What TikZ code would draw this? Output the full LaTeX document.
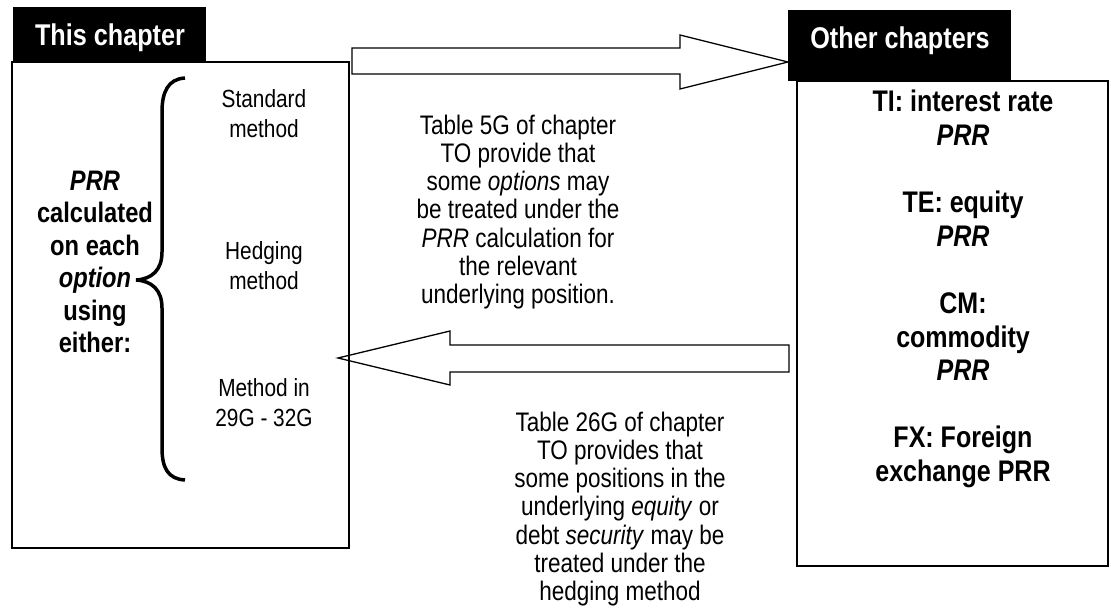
\documentclass[tikz,border=0pt]{standalone}
\usepackage{fontspec}
\setmainfont{Liberation Sans}[FakeStretch=0.84]
\begin{document}
\begin{tikzpicture}[x=1pt,y=-1pt,
  frame/.style={draw,line width=1.5pt},
  tab/.style={fill=black,inner sep=0pt},
  tabtext/.style={text=white,inner sep=0pt,font=\fontsize{30}{34}\selectfont\bfseries},
  note/.style={align=center,inner sep=0pt,font=\fontsize{26.8}{28.3}\selectfont},
  method/.style={align=center,inner sep=0pt,font=\fontsize{24.8}{30}\selectfont},
  strong/.style={align=center,inner sep=0pt,font=\fontsize{28.2}{32.5}\selectfont\bfseries},
  strongr/.style={align=center,inner sep=0pt,font=\fontsize{29.8}{33.6}\selectfont\bfseries},
  blockarrow/.style={draw,line width=1.3pt,line join=miter},
  bracket/.style={draw,line width=3.5pt}]
\useasboundingbox (0,0) rectangle (1111,615);

% chapter boxes
\draw[frame] (12,62) rectangle (349,548);
\draw[frame] (797,81) rectangle (1108,566);

% block arrows between the two boxes
\coordinate (rtip) at (788,62);
\draw[blockarrow] (352,48) -- (680,48) -- (680,35) -- (rtip) -- (680,89) -- (680,74) -- (352,74) -- cycle;
\coordinate (ltip) at (338,358);
\draw[blockarrow] (789,345) -- (450,345) -- (450,331) -- (ltip) -- (450,385) -- (450,372) -- (789,372) -- cycle;

% chapter tabs
\node[tab,minimum width=193pt,minimum height=55pt] (thistab) at (109.5,34.5) {};
\node[tabtext] (thistext) at (110,38) {This chapter};
\node[tab,minimum width=223pt,minimum height=71pt] (othertab) at (899.5,45.5) {};
\node[tabtext] (othertext) at (900,41) {Other chapters};

% curly bracket
\draw[bracket] (185,78) .. controls (168,79) and (162,92) .. (162,112)
  -- (162,252) .. controls (162,270) and (152,279) .. (136,280)
  .. controls (152,281) and (162,290) .. (162,308)
  -- (162,448) .. controls (162,468) and (168,479) .. (185,480);

% left box texts
\node[strong] (calc) at (95,262) {\textit{PRR}\\calculated\\on each\\\textit{option}\\using\\either:};
\node[method] (std) at (264,114) {Standard\\method};
\node[method] (hedge) at (264,265.5) {Hedging\\method};
\node[method] (m29) at (264,403) {Method in\\29G - 32G};

% arrow notes
\node[note] (note5g) at (518,212) {Table 5G of chapter\\TO provide that\\some \textit{options} may\\be treated under the\\\textit{PRR} calculation for\\the relevant\\underlying position.};
\node[note] (note26g) at (620,509) {Table 26G of chapter\\TO provides that\\some positions in the\\underlying \textit{equity} or\\debt \textit{security} may be\\treated under the\\hedging method};

% right box texts
\node[strongr] (list) at (963,289) {TI: interest rate\\\textit{PRR}\\[33.6pt]TE: equity\\\textit{PRR}\\[33.6pt]CM:\\commodity\\\textit{PRR}\\[33.6pt]FX: Foreign\\exchange PRR};
\end{tikzpicture}
\end{document}
